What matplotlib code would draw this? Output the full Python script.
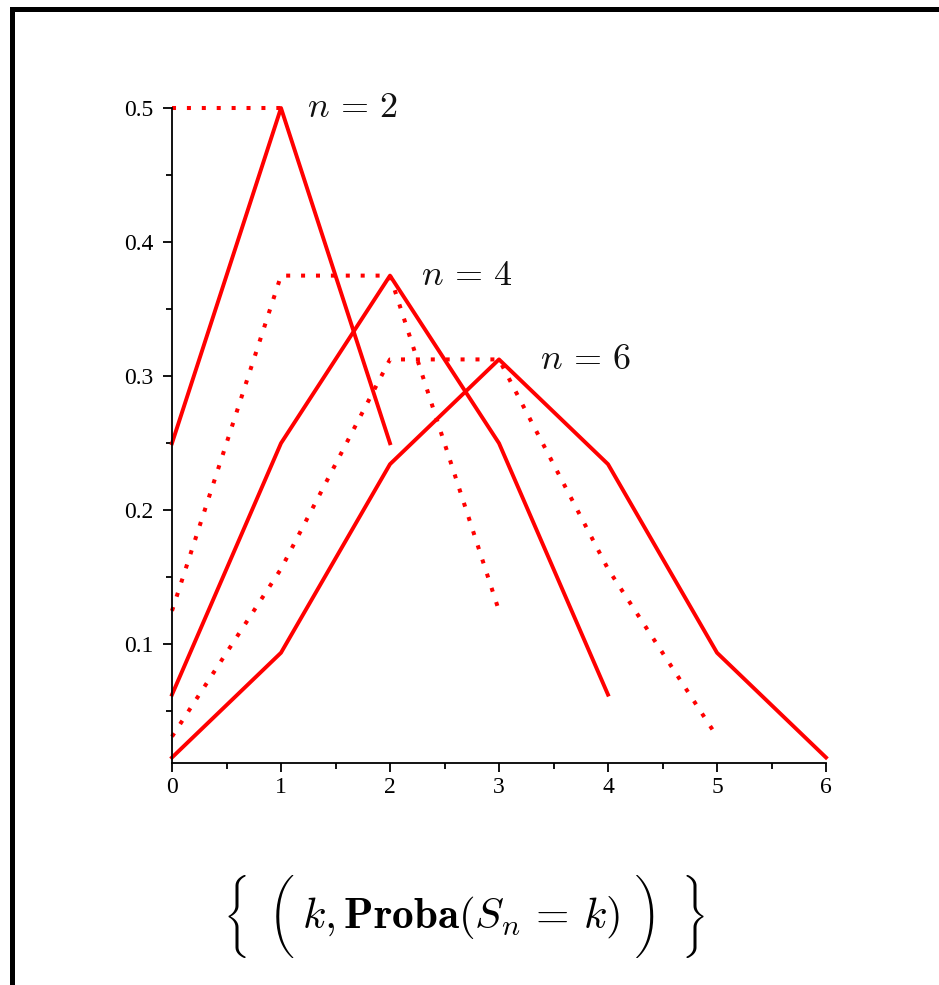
import os
import matplotlib
matplotlib.use("Agg")
import matplotlib.pyplot as plt
from matplotlib.font_manager import FontProperties
from matplotlib.lines import Line2D
from matplotlib.ticker import MultipleLocator, FormatStrFormatter

plt.rcParams['mathtext.fontset'] = 'cm'
plt.rcParams['font.family'] = ['Liberation Serif', 'DejaVu Serif']

# distribution of S_n for n = 1..6 (odd n dotted, even n solid)
k_1 = [0, 1]
p_1 = [0.5, 0.5]
k_2 = [0, 1, 2]
p_2 = [0.25, 0.5, 0.25]
k_3 = [0, 1, 2, 3]
p_3 = [0.125, 0.375, 0.375, 0.125]
k_4 = [0, 1, 2, 3, 4]
p_4 = [0.0625, 0.25, 0.375, 0.25, 0.0625]
k_5 = [0, 1, 2, 3, 4, 5]
p_5 = [0.03125, 0.15625, 0.3125, 0.3125, 0.15625, 0.03125]
k_6 = [0, 1, 2, 3, 4, 5, 6]
p_6 = [0.015625, 0.09375, 0.234375, 0.3125, 0.234375, 0.09375, 0.015625]

label_text = [r'$n\,=\,2$', r'$n\,=\,4$', r'$n\,=\,6$']
label_x = [1.24, 2.285, 3.38]
label_y = [0.5, 0.375, 0.3125]

W, H = 939, 985
fig = plt.figure(figsize=(W / 100, H / 100), dpi=100)

def fx(px):
    return px / W

def fy(py):
    return 1 - py / H

ax = fig.add_axes([fx(172), fy(763.3), fx(826) - fx(172), fy(108) - fy(763.3)])

red = '#ff0000'
solid = dict(color=red, lw=2.8, solid_joinstyle='round', clip_on=False)
dotted = dict(color=red, lw=2.9, linestyle=(0, (1, 2.7)), clip_on=False)

ax.plot(k_1, p_1, **dotted)
ax.plot(k_3, p_3, **dotted)
ax.plot(k_5, p_5, **dotted)
ax.plot(k_2, p_2, **solid)
ax.plot(k_4, p_4, **solid)
ax.plot(k_6, p_6, **solid)

# labels sit just to the right of each even-n peak, baseline a bit below it
for s, x, y in zip(label_text, label_x, label_y):
    ax.annotate(s, xy=(x, y), xytext=(0, -6.8), textcoords='offset points',
                fontsize=26, ha='left', va='baseline', color='#111111')

ax.set_xlim(0, 6)
ax.set_ylim(0.0113, 0.5)
for side in ('top', 'right'):
    ax.spines[side].set_visible(False)
for side in ('left', 'bottom'):
    ax.spines[side].set_linewidth(1.3)
ax.xaxis.set_major_locator(MultipleLocator(1))
ax.xaxis.set_minor_locator(MultipleLocator(0.5))
ax.yaxis.set_major_locator(MultipleLocator(0.1))
ax.yaxis.set_minor_locator(MultipleLocator(0.05))
ax.yaxis.set_major_formatter(FormatStrFormatter('%g'))
ax.tick_params(which='major', length=6.2, width=1.3, labelsize=17)
ax.tick_params(which='minor', length=4, width=1.3)
ax.tick_params(axis='x', which='major', pad=4)
ax.tick_params(axis='y', which='major', pad=7)

# caption below the plot, with tall delimiters from cmex
cmex = FontProperties(fname=os.path.join(matplotlib.get_data_path(), 'fonts', 'ttf', 'cmex10.ttf'), size=25)
for ch, px in [('\xbd', 236), ('\xb5', 282), ('\xb6', 648), ('\xbe', 694)]:
    fig.text(fx(px), fy(916), ch, fontproperties=cmex, ha='center', va='center')
fig.text(fx(461), fy(928), r'$k,\mathbf{Proba}(S_n\,=\,k)$', fontsize=31,
         ha='center', va='baseline')

# outer frame
fig.add_artist(Line2D([fx(11.5), fx(11.5)], [fy(8.5), 0], lw=3.6, color='black',
                      solid_capstyle='projecting'))
fig.add_artist(Line2D([fx(11.5), 1], [fy(8.5), fy(8.5)], lw=3.6, color='black',
                      solid_capstyle='projecting'))

fig.savefig('out.png', dpi=100)
